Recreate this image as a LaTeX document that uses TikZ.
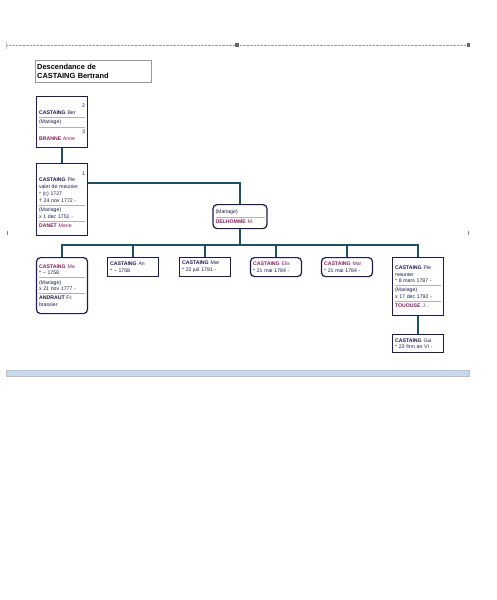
\documentclass[tikz,border=0pt]{standalone}
\usepackage{fontspec}
\setmainfont{Liberation Sans}
\definecolor{navy}{HTML}{1C1C4E}
\definecolor{fem}{HTML}{8A1C5C}
\definecolor{linkcol}{HTML}{1E5262}
\definecolor{barblue}{HTML}{C9D9EC}
\newcommand\sepline{\par\vspace{2.4pt}{\color{black!30}\hrule height .5pt}\vspace{2.4pt}}
\newcommand\num[1]{\hspace*{\fill}#1\par}
\newcommand\nm[2]{\textbf{#1}\ #2}
\tikzset{
  person/.style={draw=navy, line width=1.2pt, fill=white, anchor=north,
    text width=46pt, minimum width=51pt, align=left, inner sep=2.2pt,
    font=\fontsize{5.2}{6.8}\selectfont, text=navy},
  female/.style={person, rounded corners=4pt},
  conn/.style={draw=linkcol, line width=1.6pt},
}
\begin{document}
\begin{tikzpicture}[x=1pt, y=-1pt]
\useasboundingbox[fill=white] (0,0) rectangle (497,600);
% page frame marks:
\draw[densely dotted, draw=black!40] (6,45) -- (470,45);
\draw[black!25] (6,42) -- (6,49);
\fill[black!60] (235,43) rectangle (239,47);
\fill[black!60] (467,43) rectangle (470,47);
\draw[black!50, line width=.8pt] (7,231) -- (7,235);
\draw[black!50, line width=.8pt] (468,231) -- (468,235);
\fill[barblue, draw=black!25] (6,370) rectangle (469,376);
% title:
\node[draw=black!40, anchor=north west, text width=112pt, minimum height=22pt,
  align=left, inner sep=2pt, font=\fontsize{7.4}{9}\selectfont\bfseries]
  (ttl) at (35,60) {Descendance de\\CASTAING Bertrand};
% ancestors:
\node[person, minimum height=51pt] (gp) at (62,96)
  {\num{2}\nm{CASTAING}{Ber}\sepline(Mariage)\sepline\num{3}{\color{fem}\nm{BRANNE}{Anne}}};
\node[person, minimum height=72pt] (pa) at (62,163)
  {\num{1}\nm{CASTAING}{Pie}\\valet de meunier\\{}* (c) 1727\\† 24 nov 1772 -\sepline
   (Mariage)\\x 1 dec 1751 -\sepline{\color{fem}\nm{DANET}{Marie}}};
\node[female, text width=49pt, minimum width=54pt, minimum height=24pt] (sp) at (240,204)
  {(Mariage)\sepline{\color{fem}\nm{DELHOMME}{M.}}};
% children:
\node[female, minimum height=56pt] (c1) at (62,257)
  {{\color{fem}\nm{CASTAING}{Ma}}\\{}* \textasciitilde{} 1758\sepline(Mariage)\\x 21 nov 1777 -\sepline
   \nm{ANDRAUT}{Fr.}\\brassier};
\node[person, minimum height=19pt] (c2) at (133,257)
  {\nm{CASTAING}{An}\\{}* \textasciitilde{} 1758};
\node[person, minimum height=19pt] (c3) at (205,257)
  {\nm{CASTAING}{Mar}\\{}* 22 juil 1781 -};
\node[female, minimum height=19pt] (c4) at (276,257)
  {{\color{fem}\nm{CASTAING}{Elis}}\\{}* 21 mai 1784 -};
\node[female, minimum height=19pt] (c5) at (347,257)
  {{\color{fem}\nm{CASTAING}{Mar}}\\{}* 21 mai 1784 -};
\node[person, minimum height=58pt] (c6) at (418,257)
  {\nm{CASTAING}{Pie}\\meunier\\{}* 8 mars 1787 -\sepline(Mariage)\\x 17 dec 1792 -\sepline
   {\color{fem}\nm{TOUOUSE}{J...}}};
\node[person, minimum height=18pt] (g1) at (418,334)
  {\nm{CASTAING}{Gui}\\{}* 23 frim an VI -};
% links:
\draw[conn] (gp) -- (pa);
\draw[conn] ([yshift=-20pt]pa.north east) -| (sp.north);
\foreach \c in {c1,c2,c3,c4,c5,c6}
  \draw[conn] (sp.south) |- ([yshift=12pt]\c.north) -- (\c.north);
\draw[conn] (c6) -- (g1);
\end{tikzpicture}
\end{document}
